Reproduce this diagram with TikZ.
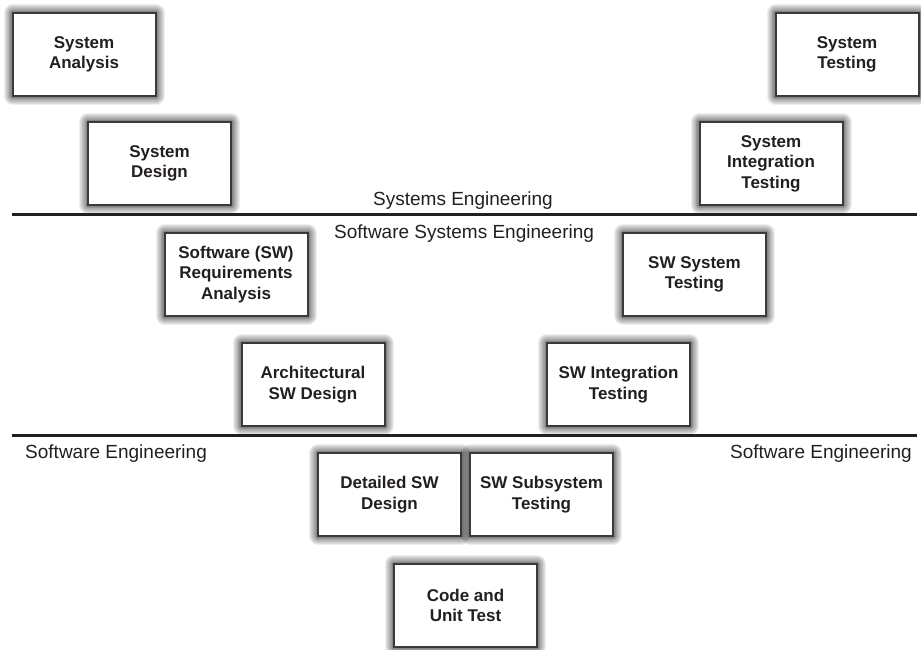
\documentclass[tikz,border=0pt]{standalone}
\usepackage{fontspec}
\setmainfont{Liberation Sans}
\definecolor{ink}{HTML}{231F20}
\definecolor{boxline}{HTML}{3A3A3A}
\tikzset{
  halo/.style={preaction={draw=black, draw opacity=0.065, line width=#1, line join=round}},
  phase/.style={draw=boxline, line width=2pt, fill=white, minimum width=143pt, minimum height=83pt,
    inner sep=0pt, align=center, text=ink,
    font=\bfseries\fontsize{17}{20.5}\selectfont,
    halo=18pt, halo=16pt, halo=14pt, halo=12pt, halo=10pt, halo=8pt, halo=6.5pt, halo=5pt, halo=4pt},
  sep/.style={draw=ink, line width=3pt},
  lbl/.style={inner sep=0pt, text=ink, font=\fontsize{19}{22}\selectfont}
}
\begin{document}
\begin{tikzpicture}[x=1pt, y=-1pt]
\useasboundingbox[fill=white] (0,0) rectangle (921,649);
% separator lines
\coordinate (l1a) at (12,214);
\coordinate (l1b) at (917,214);
\coordinate (l2a) at (12,435);
\coordinate (l2b) at (917,435);
\draw[sep] (l1a) -- (l1b);
\draw[sep] (l2a) -- (l2b);
% labels
\node[lbl, anchor=base west] (lse) at (373,205) {Systems Engineering};
\node[lbl, anchor=base west] (lsse) at (334,238) {Software Systems Engineering};
\node[lbl, anchor=base west] (lswl) at (25,458) {Software Engineering};
\node[lbl, anchor=base east] (lswr) at (912,458) {Software Engineering};
% boxes
\node[phase] (sa) at (84,54.5) {System\\Analysis};
\node[phase] (sd) at (159.5,163.5) {System\\Design};
\node[phase] (st) at (847,54.5) {System\\Testing};
\node[phase] (sit) at (771,163.5) {System\\Integration\\Testing};
\node[phase] (sra) at (236,274.5) {Software (SW)\\Requirements\\Analysis};
\node[phase] (asd) at (313,384.5) {Architectural\\SW Design};
\node[phase] (sst) at (694.5,274.5) {SW System\\Testing};
\node[phase] (sint) at (618.5,384.5) {SW Integration\\Testing};
\node[phase] (dsd) at (389.5,494.5) {Detailed SW\\Design};
\node[phase] (ssub) at (541.5,494.5) {SW Subsystem\\Testing};
\node[phase] (cut) at (465.5,605.5) {Code and\\Unit Test};
\end{tikzpicture}
\end{document}
